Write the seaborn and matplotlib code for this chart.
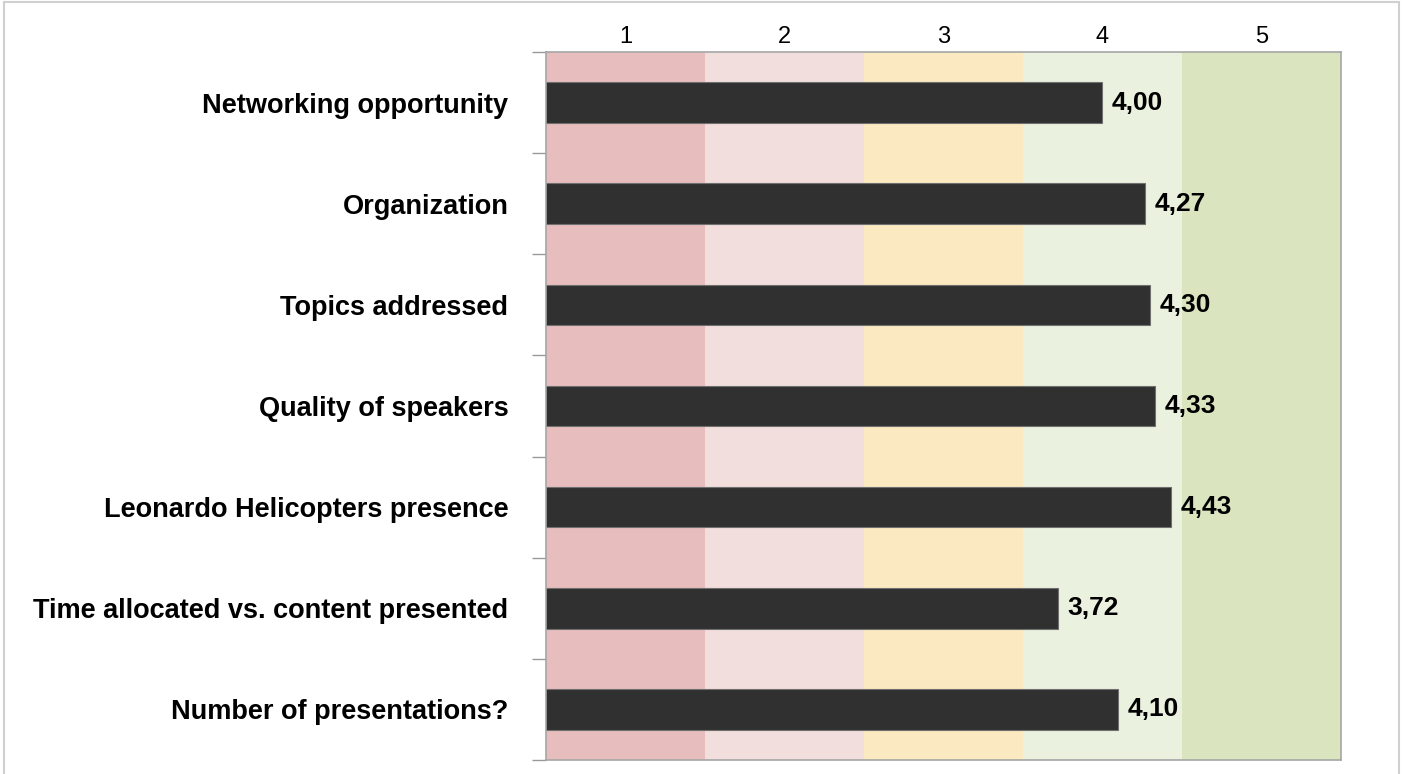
import numpy as np
import pandas as pd
import seaborn as sns
import matplotlib.pyplot as plt
from matplotlib.patches import Rectangle

categories = ["Networking opportunity", "Organization", "Topics addressed",
              "Quality of speakers", "Leonardo Helicopters presence",
              "Time allocated vs. content presented", "Number of presentations?"]
scores = [4.00, 4.27, 4.30, 4.33, 4.43, 3.72, 4.10]
scale_ticks = [1, 2, 3, 4, 5]
band_colors = ["#E7BEBD", "#F2DEDD", "#FBE9C1", "#EBF1DF", "#DAE5C0"]

df = pd.DataFrame({"item": categories, "score": scores})

sns.set_style("white")
plt.rcParams['font.family'] = ['Liberation Sans', 'DejaVu Sans']
plt.rcParams['text.color'] = 'black'
plt.rcParams['xtick.color'] = 'black'
plt.rcParams['ytick.color'] = 'black'

fig = plt.figure(figsize=(14.02, 7.74), dpi=100)
ax = fig.add_axes([0.3894, 0.0181, 0.9565 - 0.3894, 0.9328 - 0.0181])

# coloured score bands behind the bars
for t, c in zip(scale_ticks, band_colors):
    ax.axvspan(t - 0.5, t + 0.5, color=c, zorder=0, lw=0)

sns.barplot(data=df, y="item", x="score", orient="h", color="#303030",
            width=0.4, edgecolor="#6f6f6f", linewidth=0.8, saturation=1,
            ax=ax, zorder=2)

ax.set_xlim(0.5, 5.5)
ax.set_ylim(len(categories) - 0.5, -0.5)
ax.xaxis.tick_top()
ax.set_xticks(scale_ticks)
ax.set_xticklabels([str(t) for t in scale_ticks], fontsize=17)
ax.tick_params(axis="x", length=0, pad=3)
ax.set_xlabel("")
ax.set_ylabel("")

ax.set_yticks(range(len(categories)))
ax.set_yticklabels(categories, fontsize=19.5, fontweight="bold")
ax.tick_params(axis="y", which="major", length=0, pad=27)
# small tick marks between categories
ax.set_yticks(np.arange(-0.5, len(categories), 1.0), minor=True)
ax.tick_params(axis="y", which="minor", left=True, length=10, color="#999999",
               width=1, direction="out")

for s in ["top", "bottom", "left", "right"]:
    ax.spines[s].set_color("#a6a6a6")
    ax.spines[s].set_linewidth(1.2)

for i, v in enumerate(scores):
    ax.text(v + 0.06, i, f"{v:.2f}".replace(".", ","), va="center", ha="left",
            fontsize=19, fontweight="bold", color="black", zorder=3)

# outer frame of the chart
fig.add_artist(Rectangle((0.003, -0.01), 0.995, 1.007, transform=fig.transFigure,
                         fill=False, edgecolor="#d0d0d0", lw=1.5))

fig.savefig("out.png", dpi=100)
